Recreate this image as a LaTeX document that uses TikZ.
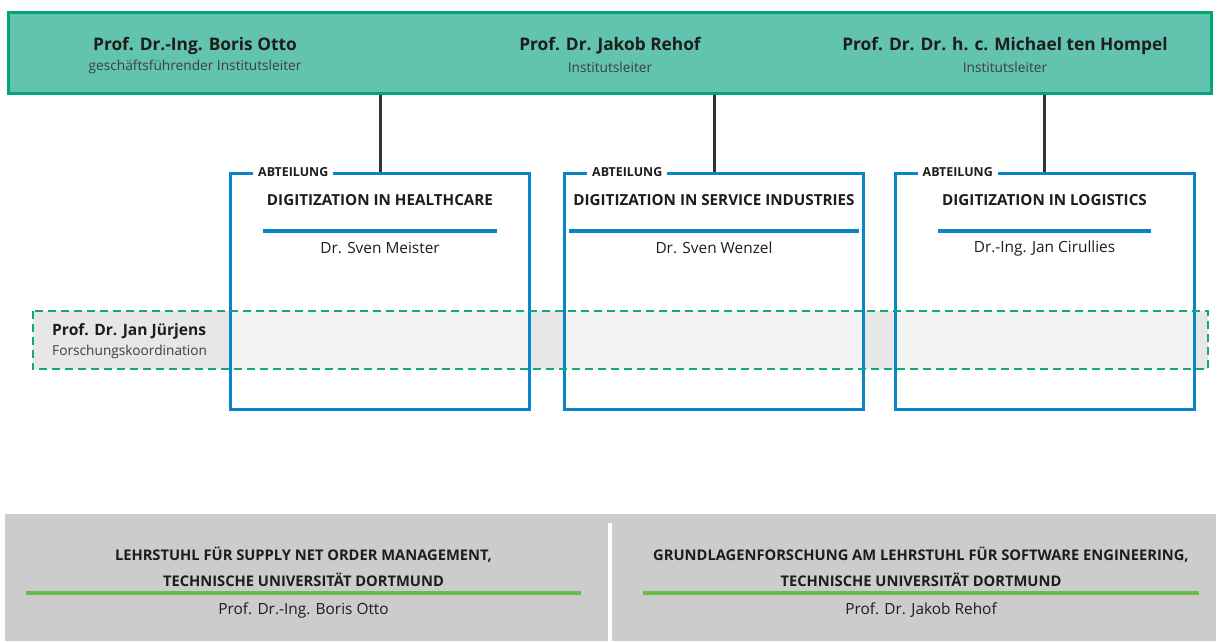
\documentclass[tikz,border=0pt]{standalone}
\usepackage{fontspec}
\setmainfont{Open Sans}
\usetikzlibrary{positioning}
\definecolor{headfill}{HTML}{62C3AE}
\definecolor{headline}{HTML}{00A676}
\definecolor{deptblue}{HTML}{0A85C8}
\definecolor{linkgray}{HTML}{333333}
\definecolor{bandfill}{HTML}{E6E7E6}
\definecolor{bandline}{HTML}{10AA78}
\definecolor{chairfill}{HTML}{CBCCCB}
\definecolor{chairrule}{HTML}{6CBD45}
\definecolor{txt}{HTML}{1D1D1B}

\begin{document}
\begin{tikzpicture}[
  x=1pt, y=-1pt,
  node distance=4pt and 4pt,
  headbox/.style={draw=headline,fill=headfill,line width=2.5pt,minimum width=1203pt,minimum height=81pt},
  headname/.style={font=\bfseries\fontsize{17.3}{19}\selectfont,text=txt},
  headrole/.style={font=\fontsize{13.7}{15}\selectfont,text=txt!85},
  link/.style={draw=linkgray,line width=3pt},
  deptbox/.style={draw=deptblue,fill=white,fill opacity=0.5,text opacity=1,line width=3pt,minimum width=299pt,minimum height=236pt},
  deptlabel/.style={fill=white,inner xsep=5pt,inner ysep=3pt,font=\bfseries\fontsize{12.4}{13}\selectfont,text=txt},
  depttitle/.style={inner sep=4pt,font=\bfseries\fontsize{15.2}{17}\selectfont,text=txt},
  deptrule/.style={draw=deptblue,line width=3.5pt},
  deptname/.style={font=\fontsize{15.4}{17}\selectfont,text=txt},
  band/.style={fill=bandfill,minimum width=1175pt,minimum height=58pt},
  bandline/.style={draw=bandline,line width=2.5pt,dash pattern=on 8pt off 5pt},
  coordname/.style={font=\bfseries\fontsize{15.6}{17}\selectfont,text=txt,inner sep=0pt},
  coordrole/.style={font=\fontsize{13.7}{15}\selectfont,text=txt!85,inner sep=0pt},
  chairbox/.style={fill=chairfill,minimum width=1211pt,minimum height=127pt},
  chairtitle/.style={font=\bfseries\fontsize{14.7}{26}\selectfont,text=txt,align=center},
  chairrule/.style={draw=chairrule,line width=3.5pt},
  chairname/.style={font=\fontsize{15.4}{17}\selectfont,text=txt},
  divider/.style={draw=white,line width=4pt}
]
\useasboundingbox (0,0) rectangle (1218,641);

% Institutsleitung
\node[headbox] (head) at (610,53) {};
\node[headname] (otto) at (195,46) {Prof. Dr.-Ing. Boris Otto};
\node[headrole] (ottorole) at (195,67) {geschäftsführender Institutsleiter};
\node[headname] (rehof) at (610,46) {Prof. Dr. Jakob Rehof};
\node[headrole] (rehofrole) at (610,67) {Institutsleiter};
\node[headname] (hompel) at (1005,46) {Prof. Dr. Dr. h. c. Michael ten Hompel};
\node[headrole] (hompelrole) at (1005,67) {Institutsleiter};

% Forschungskoordination
\node[band] (band) at (620.5,340) {};

% Abteilungen
\node[deptbox] (dep1) at (380,291.5) {};
\node[deptbox] (dep2) at (714,291.5) {};
\node[deptbox] (dep3) at (1044.5,291.5) {};

\draw[bandline] (band.north west) rectangle (band.south east);

\draw[link] (dep1.north) -- (dep1.north |- head.south);
\draw[link] (dep2.north) -- (dep2.north |- head.south);
\draw[link] (dep3.north) -- (dep3.north |- head.south);

\node[deptlabel,anchor=west] (lab1) at ([xshift=24pt]dep1.north west) {ABTEILUNG};
\node[deptlabel,anchor=west] (lab2) at ([xshift=24pt]dep2.north west) {ABTEILUNG};
\node[deptlabel,anchor=west] (lab3) at ([xshift=24pt]dep3.north west) {ABTEILUNG};

\node[depttitle] (tit1) at ([yshift=-28pt]dep1.north) {DIGITIZATION IN HEALTHCARE};
\node[depttitle] (tit2) at ([yshift=-28pt]dep2.north) {DIGITIZATION IN SERVICE INDUSTRIES};
\node[depttitle] (tit3) at ([yshift=-28pt]dep3.north) {DIGITIZATION IN LOGISTICS};

\draw[deptrule] ([yshift=-31pt]tit1.west) -- ([yshift=-31pt]tit1.east);
\draw[deptrule] ([yshift=-31pt]tit2.west) -- ([yshift=-31pt]tit2.east);
\draw[deptrule] ([yshift=-31pt]tit3.west) -- ([yshift=-31pt]tit3.east);

\node[deptname] (lead1) at ([yshift=-48pt]tit1) {Dr. Sven Meister};
\node[deptname] (lead2) at ([yshift=-48pt]tit2) {Dr. Sven Wenzel};
\node[deptname] (lead3) at ([yshift=-48pt]tit3) {Dr.-Ing. Jan Cirullies};

\node[coordname,anchor=base west] (jj) at (52,335) {Prof. Dr. Jan Jürjens};
\node[coordrole,anchor=base west] (jjrole) at (52,355) {Forschungskoordination};

% Lehrstuehle
\node[chairbox] (chairs) at (610.5,577.5) {};
\coordinate (divtop) at (610,523);
\draw[divider] (divtop) -- (divtop |- chairs.south);

\node[chairtitle] (chairL) at (303.5,567) {LEHRSTUHL FÜR SUPPLY NET ORDER MANAGEMENT,\\TECHNISCHE UNIVERSITÄT DORTMUND};
\node[chairtitle] (chairR) at (921,567) {GRUNDLAGENFORSCHUNG AM LEHRSTUHL FÜR SOFTWARE ENGINEERING,\\TECHNISCHE UNIVERSITÄT DORTMUND};
\coordinate (ruleL) at (26,593);
\coordinate (ruleR) at (643,593);
\draw[chairrule] (ruleL) -- ++(555,0);
\draw[chairrule] (ruleR) -- ++(556,0);
\node[chairname] (chairLlead) at (303.5,610) {Prof. Dr.-Ing. Boris Otto};
\node[chairname] (chairRlead) at (921,610) {Prof. Dr. Jakob Rehof};

\end{tikzpicture}
\end{document}
